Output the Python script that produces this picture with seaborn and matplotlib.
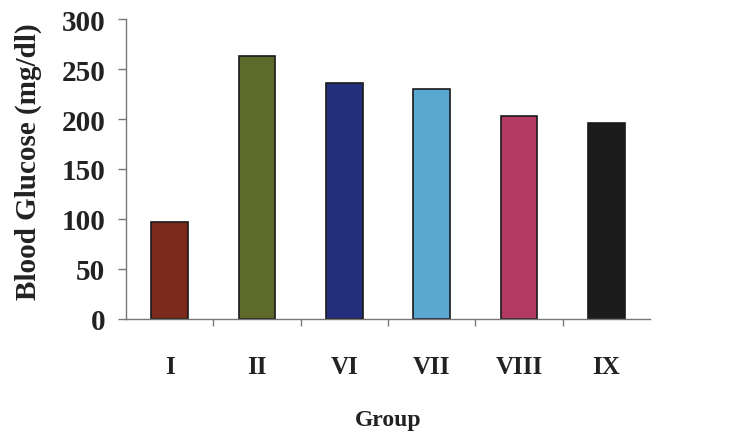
import matplotlib
matplotlib.use("Agg")
import matplotlib.pyplot as plt
import seaborn as sns
import pandas as pd
from matplotlib.ticker import FixedLocator

groups = ["I", "II", "VI", "VII", "VIII", "IX"]
glucose = [97, 263, 236, 230, 203, 196]
colors = ["#7b2a1c", "#5e6a2c", "#232f7c", "#5aa7d0", "#b23a62", "#1c1c1c"]
yticks = [0, 50, 100, 150, 200, 250, 300]

sns.set_style("white")
plt.rcParams["font.family"] = ["Liberation Serif", "DejaVu Serif"]
plt.rcParams["font.weight"] = "bold"

df = pd.DataFrame({"Group": groups, "Glucose": glucose})

fig = plt.figure(figsize=(7.34, 4.35), dpi=100)
ax = fig.add_axes([0.1717, 0.2644, 0.7139, 0.6896])
sns.barplot(data=df, x="Group", y="Glucose", hue="Group", palette=colors,
            saturation=1, legend=False, width=0.42, edgecolor="#1a1a1a",
            linewidth=1.2, ax=ax)

ax.set_xlim(-0.5, 5.5)
ax.set_ylim(0, 300)
ax.set_yticks(yticks)
ax.set_yticklabels([str(v) for v in yticks], fontsize=21, fontweight="bold", color="#222222")
ax.set_xticks(range(len(groups)))
ax.set_xticklabels(groups, fontsize=18, fontweight="bold", color="#222222")
ax.tick_params(axis="x", which="major", length=0, bottom=True, pad=26)
ax.xaxis.set_minor_locator(FixedLocator([0.5, 1.5, 2.5, 3.5, 4.5]))
ax.tick_params(axis="x", which="minor", length=5, width=1, direction="out",
               color="#777777", bottom=True)
ax.tick_params(axis="y", length=6, width=1, direction="out", color="#777777",
               left=True, pad=9)

for s in ["top", "right"]:
    ax.spines[s].set_visible(False)
for s in ["left", "bottom"]:
    ax.spines[s].set_color("#777777")
    ax.spines[s].set_linewidth(1.0)

ax.set_ylabel("Blood Glucose (mg/dl)", fontsize=21, fontweight="bold", color="#222222")
ax.yaxis.set_label_coords(-0.16, 0.527)
ax.set_xlabel("Group", fontsize=17, fontweight="bold", color="#222222", labelpad=22)

fig.savefig("out.png", dpi=100)
